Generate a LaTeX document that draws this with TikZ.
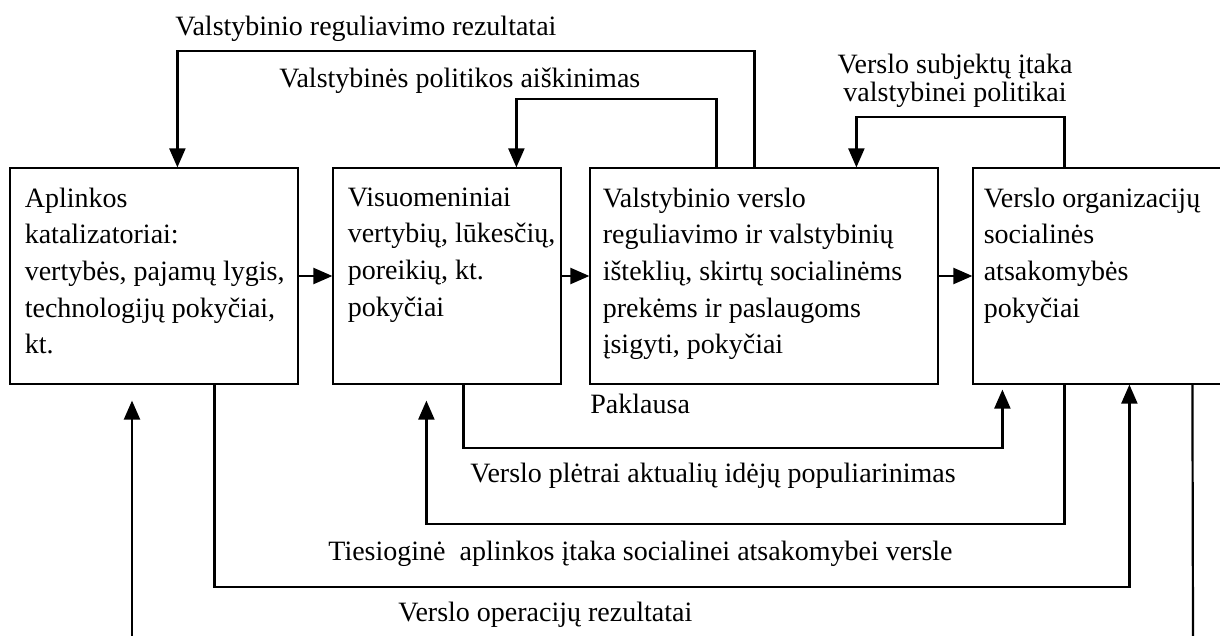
\documentclass[tikz,border=0pt]{standalone}
\usepackage{fontspec}
\setmainfont{Liberation Serif}
\usetikzlibrary{arrows.meta,calc}

\tikzset{
  box/.style={draw, line width=0.6pt, inner sep=0pt, minimum height=108pt},
  boxtext/.style={anchor=north west, inner sep=0pt, align=left, font=\fontsize{14}{18.3}\selectfont},
  lbl/.style={anchor=base west, inner sep=0pt, font=\fontsize{14}{14}\selectfont},
  conn/.style={line width=1.1pt, -{Triangle[length=9.5pt,width=8pt]}},
  wire/.style={line width=1.1pt},
}

\begin{document}
\begin{tikzpicture}[x=0.5pt,y=-0.5pt]
    \useasboundingbox (0,0) rectangle (1220,636);

    \node[box, minimum width=144pt] (b1) at (154,276) {};
    \node[box, minimum width=114pt] (b2) at (447,276) {};
    \node[box, minimum width=174pt] (b3) at (764,276) {};
    \node[box, minimum width=150pt] (b4) at (1123,276) {};

    \node[boxtext] (t1) at ($(b1.north west)+(15,20)$) {Aplinkos\\katalizatoriai:\\vertybės, pajamų lygis,\\technologijų pokyčiai,\\kt.};
    \node[boxtext] (t2) at ($(b2.north west)+(15,20)$) {Visuomeniniai\\vertybių, lūkesčių,\\poreikių, kt.\\pokyčiai};
    \node[boxtext] (t3) at ($(b3.north west)+(13,20)$) {Valstybinio verslo\\reguliavimo ir valstybinių\\išteklių, skirtų socialinėms\\prekėms ir paslaugoms\\įsigyti, pokyčiai};
    \node[boxtext] (t4) at ($(b4.north west)+(11,20)$) {Verslo organizacijų\\socialinės\\atsakomybės\\pokyčiai};

    \draw[conn] (b1.east) -- (b2.west);
    \draw[conn] (b2.east) -- (b3.west);
    \draw[conn] (b3.east) -- (b4.west);

    \draw[conn] ($(b3.north west)+(165,0)$) -- ++(0,-116) -| ($(b1.north west)+(168,0)$);
    \draw[conn] ($(b3.north west)+(127,0)$) -- ++(0,-68) -| ($(b2.north west)+(184,0)$);
    \draw[conn] ($(b4.north west)+(92,0)$) -- ++(0,-50) -| ($(b3.north west)+(267,0)$);

    \draw[conn, shorten >=2.5pt] ($(b2.south west)+(131,0)$) -- ++(0,63) -| ($(b4.south west)+(30,0)$);
    \draw[conn, shorten >=8pt] ($(b4.south west)+(92,0)$) -- ++(0,139) -| ($(b2.south west)+(94,0)$);
    \draw[conn] ($(b1.south west)+(205,0)$) -- ++(0,202) -| ($(b4.south west)+(157,0)$);

    \coordinate (in) at (132,636);
    \coordinate (out) at (1193,636);
    \draw[conn, shorten >=8pt] (in) -- (in |- b1.south);
    \draw[wire] ($(b4.south west)+(220,0)$) -- (out);

    \node[lbl] (l1) at (175,36) {Valstybinio reguliavimo rezultatai};
    \node[lbl] (l2) at (279,88) {Valstybinės politikos aiškinimas};
    \node[lbl, anchor=north, align=center] (l3) at (955,54) {Verslo subjektų įtaka\\valstybinei politikai};
    \node[lbl] (l4) at (590,413) {Paklausa};
    \node[lbl] (l5) at (470,482) {Verslo plėtrai aktualių idėjų populiarinimas};
    \node[lbl] (l6) at (328,560) {Tiesioginė\ \ aplinkos įtaka socialinei atsakomybei versle};
    \node[lbl] (l7) at (398,621) {Verslo operacijų rezultatai};
\end{tikzpicture}
\end{document}
